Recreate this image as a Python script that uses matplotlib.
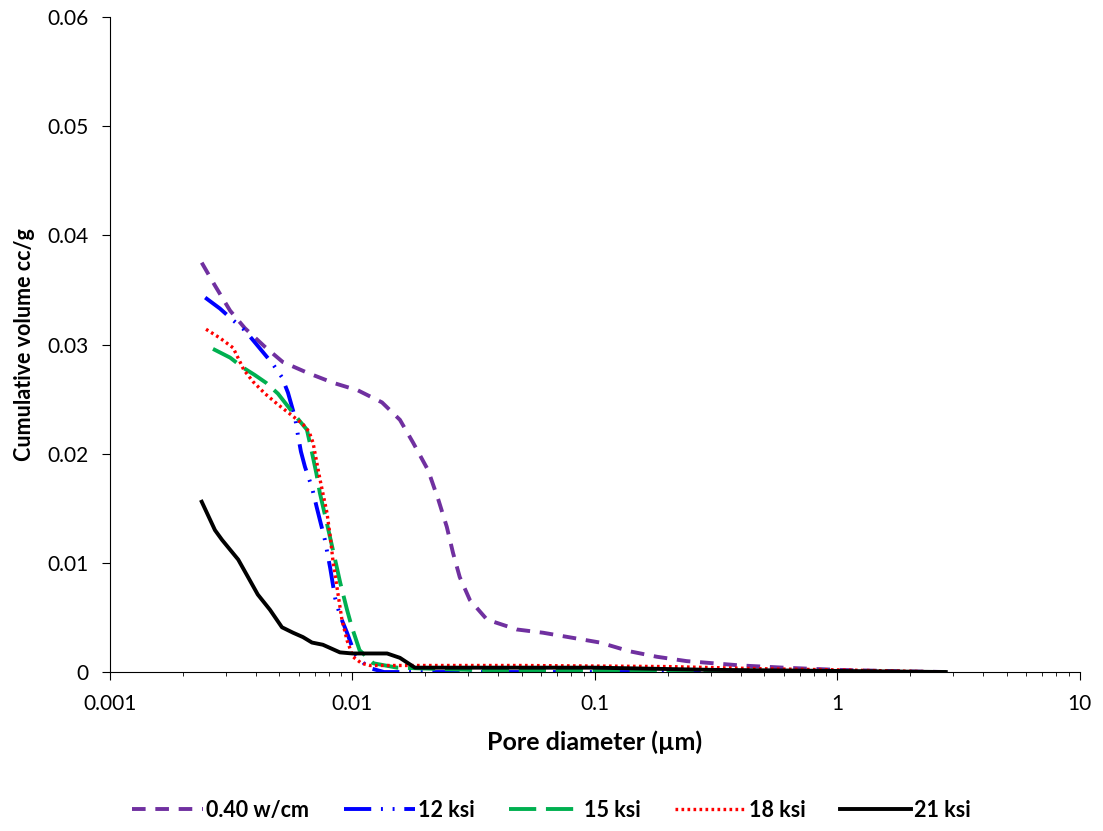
import matplotlib
matplotlib.use('Agg')
import matplotlib.pyplot as plt
from matplotlib.ticker import LogLocator, NullFormatter, FixedLocator

plt.rcParams['font.family'] = ['Lato', 'DejaVu Sans']

# 0.40 w/cm
d_wc = [0.00239, 0.00271, 0.00313, 0.0036, 0.00435, 0.00516, 0.00654, 0.00831, 0.01054,
        0.01324, 0.0157, 0.0178, 0.0205, 0.0226, 0.0245, 0.026, 0.0277, 0.0305, 0.0359,
        0.0476, 0.0611, 0.105, 0.139, 0.18, 0.239, 0.4, 0.6, 1.0, 1.6, 2.8]
v_wc = [0.0375, 0.0354, 0.0331, 0.0315, 0.0298, 0.0284, 0.0274, 0.0265, 0.0258,
        0.0247, 0.0231, 0.021, 0.0185, 0.0158, 0.0133, 0.0109, 0.0087, 0.0066, 0.0048,
        0.0039, 0.0036, 0.0027, 0.0019, 0.0014, 0.0010, 0.0006, 0.0004, 0.0002, 0.0001, 0.0]

# 12 ksi
d_12 = [0.00247, 0.00284, 0.00319, 0.0036, 0.00424, 0.0047, 0.00512, 0.00542, 0.0058,
        0.00596, 0.00613, 0.00637, 0.00681, 0.00714, 0.0077, 0.0081, 0.00848, 0.00888,
        0.0095, 0.0102, 0.0116, 0.0135, 0.1, 1.0, 2.8]
v_12 = [0.0343, 0.0333, 0.0323, 0.0313, 0.0294, 0.0282, 0.027, 0.0256, 0.0233,
        0.0217, 0.0202, 0.0188, 0.0169, 0.015, 0.0121, 0.0095, 0.0068, 0.0052,
        0.0036, 0.0017, 0.0004, 0.0, 0.0, 0.0, 0.0]

# 15 ksi
d_15 = [0.00266, 0.00313, 0.00353, 0.00396, 0.0044, 0.00493, 0.0058, 0.00649, 0.00681,
        0.0071, 0.00734, 0.00785, 0.00848, 0.0089, 0.0095, 0.00995, 0.0107, 0.0122,
        0.0153, 0.03, 0.1, 0.3, 1.0, 2.8]
v_15 = [0.0296, 0.0288, 0.0279, 0.0272, 0.0265, 0.0255, 0.0235, 0.0222, 0.0201,
        0.0182, 0.0164, 0.0136, 0.0103, 0.0082, 0.0057, 0.0041, 0.002, 0.0008,
        0.0004, 0.0002, 0.0001, 0.0, 0.0, 0.0]

# 18 ksi
d_18 = [0.00249, 0.00284, 0.00322, 0.00344, 0.00356, 0.00389, 0.00436, 0.00493, 0.00563,
        0.00625, 0.00663, 0.00688, 0.0071, 0.00734, 0.00785, 0.0081, 0.0083, 0.00863,
        0.00905, 0.0095, 0.01005, 0.0109, 0.0118, 0.05, 0.2, 0.5, 1.0, 2.8]
v_18 = [0.0314, 0.0306, 0.0297, 0.0284, 0.0277, 0.0266, 0.0255, 0.0245, 0.0235,
        0.0227, 0.022, 0.021, 0.0194, 0.0177, 0.0146, 0.0124, 0.0103, 0.0078,
        0.0048, 0.0029, 0.0014, 0.0008, 0.0006, 0.0006, 0.0005, 0.0003, 0.0002, 0.0]

# 21 ksi
d_21 = [0.00239, 0.00271, 0.0029, 0.00338, 0.00371, 0.00407, 0.00457, 0.00512, 0.00569,
        0.00625, 0.00681, 0.00755, 0.00888, 0.01, 0.0139, 0.0157, 0.0181, 0.1, 0.3,
        1.0, 2.8]
v_21 = [0.0156, 0.013, 0.0121, 0.0103, 0.0087, 0.0071, 0.0057, 0.0041, 0.0036,
        0.0032, 0.0027, 0.0025, 0.0018, 0.0017, 0.0017, 0.0013, 0.0004, 0.0004, 0.0002,
        0.0001, 0.0]

fig = plt.figure(figsize=(11.03, 8.31), dpi=100)
ax = fig.add_axes([0.0997, 0.1913, 0.8793, 0.7882])

ax.plot(d_wc, v_wc, color='#7030A0', lw=2.8, dashes=(3.5, 2.5), label='0.40 w/cm')
ax.plot(d_12, v_12, color='#0000FF', lw=2.8, dashes=(7, 2.5, 0.5, 2.5, 0.5, 2.5), label='12 ksi')
ax.plot(d_15, v_15, color='#00B050', lw=2.8, dashes=(7, 2.5), label='15 ksi')
ax.plot(d_18, v_18, color='#FF0000', lw=2.4, dashes=(0.8, 1.0), label='18 ksi')
ax.plot(d_21, v_21, color='#000000', lw=2.8, label='21 ksi')

ax.set_xscale('log')
ax.set_xlim(0.001, 10)
ax.set_ylim(0, 0.06)
ax.xaxis.set_major_locator(FixedLocator([0.001, 0.01, 0.1, 1, 10]))
ax.set_xticklabels(['0.001', '0.01', '0.1', '1', '10'])
ax.xaxis.set_minor_locator(LogLocator(base=10, subs=range(2, 10)))
ax.xaxis.set_minor_formatter(NullFormatter())
ax.set_yticks([0, 0.01, 0.02, 0.03, 0.04, 0.05, 0.06])
ax.set_yticklabels(['0', '0.01', '0.02', '0.03', '0.04', '0.05', '0.06'])

ax.spines['top'].set_visible(False)
ax.spines['right'].set_visible(False)
ax.tick_params(axis='both', which='major', direction='out', length=5.5, labelsize=15)
ax.tick_params(axis='x', which='major', pad=10)
ax.tick_params(axis='y', which='major', pad=10)
ax.tick_params(axis='x', which='minor', direction='out', length=3)

ax.set_xlabel('Pore diameter (µm)', fontsize=18, fontweight='bold', labelpad=12)
ax.set_ylabel('Cumulative volume cc/g', fontsize=15.5, fontweight='bold', labelpad=9)

fig.legend(loc='center', bbox_to_anchor=(0.5, 0.025), ncol=5, frameon=False,
           prop={'weight': 'bold', 'size': 15.5}, handlelength=3.3,
           columnspacing=1.6, handletextpad=0.15)

fig.savefig('out.png', dpi=100)
